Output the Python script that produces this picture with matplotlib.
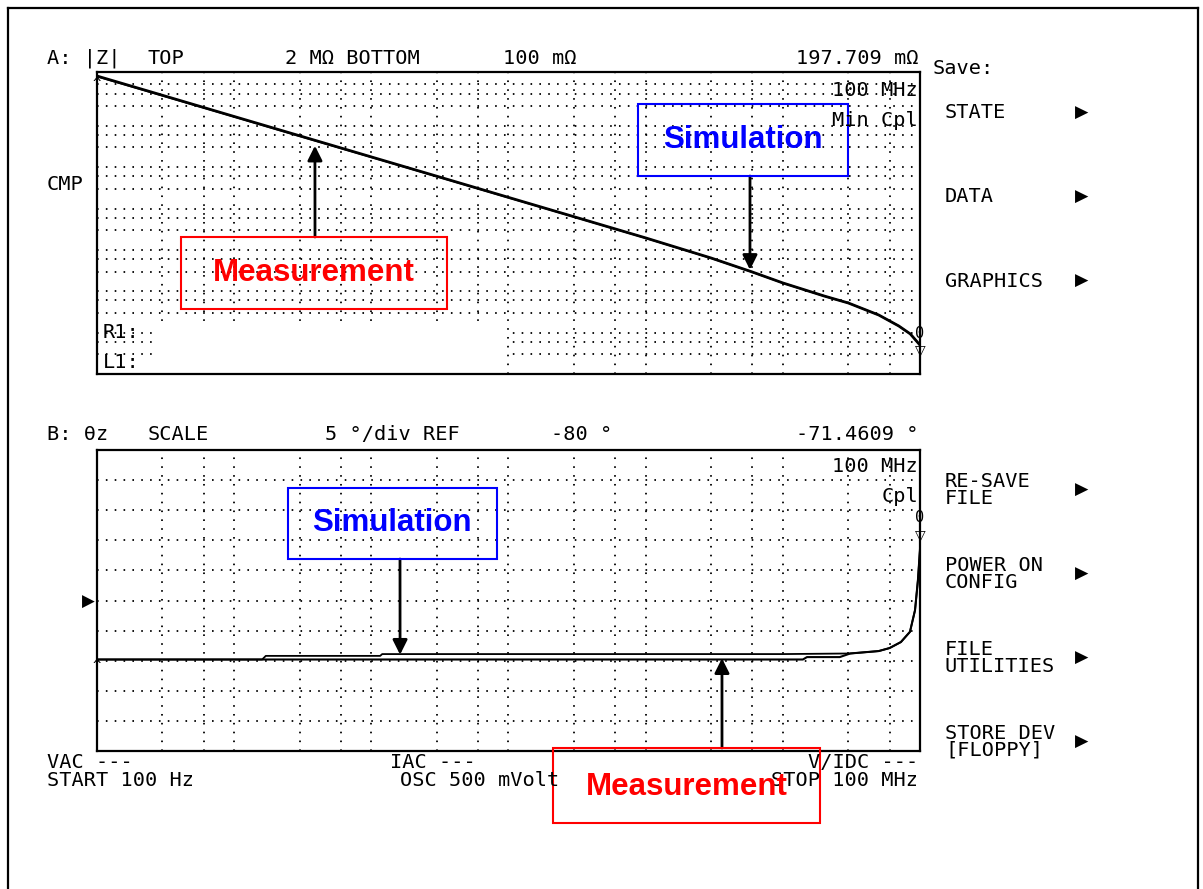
import numpy as np
import matplotlib.pyplot as plt
from matplotlib.patches import Rectangle
from matplotlib.lines import Line2D

W, H = 1203, 889

# |Z| trace (ohm), 100 Hz .. 100 MHz
freq_z = [1e2, 3e2, 1e3, 3e3, 1e4, 3e4, 1e5, 3e5, 1e6, 3e6, 6e6, 1e7, 2e7, 3e7, 5e7, 7e7, 8.5e7, 1e8]
z_meas = [1.60e6, 5.47e5, 1.68e5, 5.74e4, 1.77e4, 6.05e3, 1.86e3, 635, 195, 63.7, 29.2, 15.9, 7.69, 5.21, 2.67, 1.45, 0.93, 0.50]
z_sim = [1.56e6, 5.35e5, 1.65e5, 5.62e4, 1.74e4, 5.95e3, 1.83e3, 628, 193, 63.0, 29.0, 15.8, 7.65, 5.20, 2.67, 1.45, 0.93, 0.50]

# phase trace (deg)
freq_ph_meas = [1e2, 1e3, 1e4, 1e5, 1e6, 1e7, 1.4e7, 1.5e7, 2.6e7, 3.1e7, 5e7, 6e7, 7.26e7, 8.45e7, 9.2e7, 9.66e7, 1e8]
ph_meas = [-89.8, -89.8, -89.8, -89.8, -89.8, -89.8, -89.8, -89.4, -89.4, -88.8, -88.4, -87.9, -86.9, -85.2, -81.6, -76.6, -71.5]
freq_ph_sim = [1e2, 1.6e3, 1.7e3, 1.16e4, 1.2e4, 1e5, 1e6, 1e7, 3.1e7, 5e7, 6e7, 7.26e7, 8.45e7, 9.2e7, 9.66e7, 1e8]
ph_sim = [-89.8, -89.8, -89.2, -89.2, -88.9, -88.9, -88.9, -88.9, -88.8, -88.4, -87.9, -86.9, -85.2, -81.6, -76.6, -71.5]

menu_items = ["STATE", "DATA", "GRAPHICS", "RE-SAVE\nFILE", "POWER ON\nCONFIG", "FILE\nUTILITIES", "STORE DEV\n[FLOPPY]"]
menu_y = [113, 197, 281, 490, 574, 658, 742]

mono = 'DejaVu Sans Mono'
fs = 14.6


def P(x, y):
    return x / W, 1 - y / H


def axrect(l, t, r, b):
    return [l / W, 1 - b / H, (r - l) / W, (b - t) / H]


def txt(x, y, s, ha='left', **kw):
    kw.setdefault('fontsize', fs)
    kw.setdefault('family', mono)
    fig.text(*P(x, y), s, ha=ha, va='center', color='black', **kw)


fig = plt.figure(figsize=(W / 100, H / 100), dpi=100)

# outer frame (open at the bottom)
for xs, ys in [([8, 8], [8, 889]), ([8, 1198], [8, 8]), ([1198, 1198], [8, 889])]:
    fig.add_artist(Line2D([x / W for x in xs], [1 - y / H for y in ys], color='black', lw=1.6,
                          transform=fig.transFigure))

ax1 = fig.add_axes(axrect(97, 72, 920, 374))
ax2 = fig.add_axes(axrect(97, 450, 920, 751))

xgrid = [m * 10 ** n for n in range(2, 8) for m in (1, 3, 6) if 100 < m * 10 ** n < 1e8]
dots = dict(color='black', lw=1.3, linestyle=(0, (0.9, 4.0)))

for ax in (ax1, ax2):
    ax.set_xscale('log')
    ax.set_xlim(100, 1e8)
    ax.set_xticks(xgrid)
    ax.minorticks_off()
    ax.tick_params(length=0, labelbottom=False, labelleft=False)
    ax.set_axisbelow(True)
    ax.grid(True, **dots)
    for sp in ax.spines.values():
        sp.set_linewidth(1.6)

ax1.set_yscale('log')
ax1.set_ylim(0.1, 2e6)
ax1.set_yticks([m * 10 ** n for n in range(-1, 7) for m in (1, 3, 6) if 0.1 < m * 10 ** n < 2e6])
ax1.minorticks_off()
ax1.tick_params(length=0, labelbottom=False, labelleft=False)
ax2.set_ylim(-105, -55)
ax2.set_yticks(np.arange(-100, -55, 5))

ax1.plot(freq_z, z_meas, color='black', lw=2.0, zorder=3)
ax1.plot(freq_z, z_sim, color='black', lw=1.2, zorder=3)
ax2.plot(freq_ph_meas, ph_meas, color='black', lw=1.5, zorder=3)
ax2.plot(freq_ph_sim, ph_sim, color='black', lw=1.3, zorder=3)

# blanked parameter area of the |Z| screen
ax1.add_patch(Rectangle((158 / W, 1 - 373 / H), (507 - 158) / W, (373 - 322) / H, transform=fig.transFigure,
                        facecolor='white', edgecolor='none', zorder=1))

# header lines
txt(47, 58, "A: |Z|")
txt(148, 58, "TOP")
txt(285, 58, "2 MΩ BOTTOM")
txt(503, 58, "100 mΩ")
txt(918, 58, "197.709 mΩ", ha='right')
txt(933, 69, "Save:")
txt(47, 185, "CMP")
txt(103, 333, "R1:")
txt(103, 362, "L1:")
txt(918, 90, "100 MHz", ha='right')
txt(918, 120, "Min Cpl", ha='right')

txt(47, 435, "B: θz")
txt(148, 435, "SCALE")
txt(325, 435, "5 °/div REF")
txt(551, 435, "-80 °")
txt(918, 435, "-71.4609 °", ha='right')
txt(918, 467, "100 MHz", ha='right')
txt(918, 497, "Cpl", ha='right')

txt(47, 763, "VAC ---")
txt(47, 780, "START 100 Hz")
txt(390, 763, "IAC ---")
txt(400, 780, "OSC 500 mVolt")
txt(918, 763, "V/IDC ---", ha='right')
txt(918, 780, "STOP 100 MHz", ha='right')

# marker symbols at the end of the traces
for y0 in (333, 518):
    txt(920, y0, "0", ha='center', fontsize=11)
    txt(920, y0 + 17, "▽", ha='center', fontsize=10, family='DejaVu Sans')
txt(97, 84, "^", ha='center', fontsize=10)
txt(97, 666, "^", ha='center', fontsize=10)
txt(88, 602, "▶", ha='center', fontsize=12, family='DejaVu Sans')

# softkey menu
for label, y0 in zip(menu_items, menu_y):
    txt(945, y0, label, linespacing=0.82)
    txt(1082, y0, "▶", ha='center', fontsize=12.5, family='DejaVu Sans')

# callout boxes
boxes = [(638, 104, 848, 176, 'Simulation', '#0000ff'),
         (181, 237, 447, 309, 'Measurement', '#ff0000'),
         (288, 488, 497, 559, 'Simulation', '#0000ff'),
         (553, 748, 820, 823, 'Measurement', '#ff0000')]
for x0, y0, x1, y1, label, col in boxes:
    fig.add_artist(Rectangle(P(x0, y1), (x1 - x0) / W, (y1 - y0) / H, transform=fig.transFigure,
                             fill=False, edgecolor=col, lw=1.5))
cx = [743, 314, 392, 687]
cy = [140, 273, 523, 787]
for (x0, y0, x1, y1, label, col), xx, yy in zip(boxes, cx, cy):
    fig.text(*P(xx, yy), label, ha='center', va='center', color=col, fontsize=22.5,
             family='Liberation Sans', fontweight='bold')

arrow = dict(arrowstyle='-|>', color='black', lw=2, mutation_scale=22, shrinkA=0, shrinkB=0)
ax1.annotate('', xy=(5.76e6, 33), xytext=P(750, 176), textcoords='figure fraction', arrowprops=arrow)
ax1.annotate('', xy=(3.88e3, 3.3e4), xytext=P(315, 237), textcoords='figure fraction', arrowprops=arrow)
ax2.annotate('', xy=(1.62e4, -89.0), xytext=P(400, 559), textcoords='figure fraction', arrowprops=arrow)
ax2.annotate('', xy=(3.6e6, -89.6), xytext=P(722, 748), textcoords='figure fraction', arrowprops=arrow)

fig.savefig('out.png', dpi=100)
